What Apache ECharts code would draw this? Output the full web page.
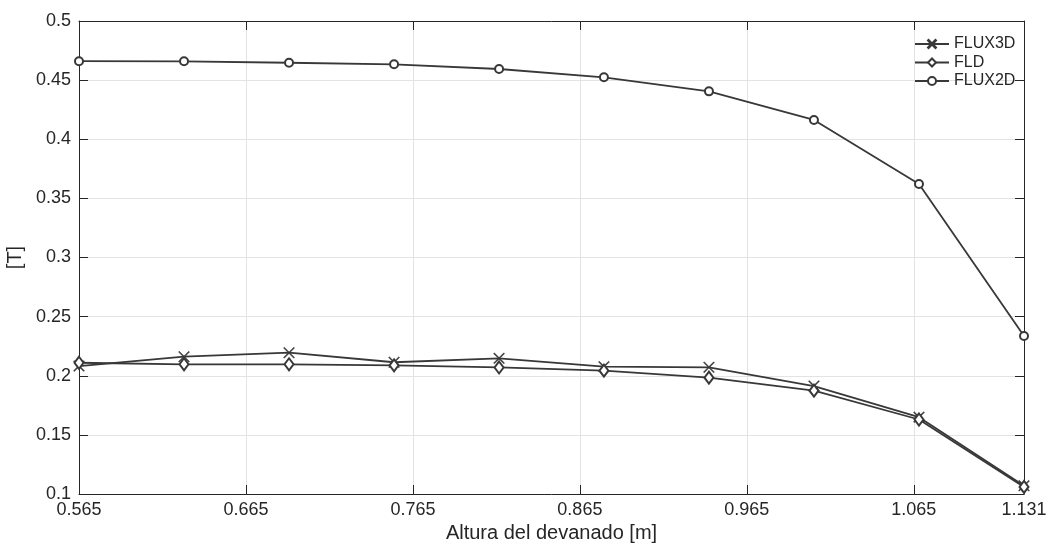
<!DOCTYPE html>
<html>
<head>
<meta charset="utf-8">
<script src="https://cdn.jsdelivr.net/npm/echarts@6/dist/echarts.min.js"></script>
<style>
    html, body { margin: 0; padding: 0; background: #fff; }
    #chart { width: 1057px; height: 546px; }
</style>
</head>
<body>
<div id="chart"></div>
<script>
// altura del devanado [m]
let alturas = [0.565, 0.6279, 0.6908, 0.7537, 0.8166, 0.8794, 0.9423, 1.0052, 1.0681, 1.131];
let flux3d = [0.2082, 0.2161, 0.2195, 0.2114, 0.2147, 0.2077, 0.2071, 0.1913, 0.1650, 0.1070];
let fld = [0.2110, 0.2097, 0.2097, 0.2088, 0.2070, 0.2043, 0.1984, 0.1874, 0.1630, 0.1060];
let flux2d = [0.4660, 0.4659, 0.4647, 0.4634, 0.4594, 0.4524, 0.4405, 0.4163, 0.3622, 0.2336];
let xTicks = [0.565, 0.665, 0.765, 0.865, 0.965, 1.065, 1.131];

let FONT = "'Liberation Sans', Arial, Helvetica, sans-serif";
let INK = "#262626";
let LINE = "#383838";
//marca en X, trazo fino
let crossPath = "path://M0,0.7L0.7,0L5,4.3L9.3,0L10,0.7L5.7,5L10,9.3L9.3,10L5,5.7L0.7,10L0,9.3L4.3,5Z";

function pares(ys) {
    let d = [];
    alturas.forEach(function (x, i) {
        d.push([x, ys[i]]);
    });
    return d;
}

function serie(name, ys, symbol, size, bw) {
    return {
        name: name,
        type: 'line',
        data: pares(ys),
        symbol: symbol,
        symbolSize: size,
        showAllSymbol: true,
        lineStyle: { color: LINE, width: 1.8 },
        itemStyle: { color: LINE, borderColor: LINE, borderWidth: bw },
        emphasis: { disabled: true }
    };
}

let myChart = echarts.init(document.getElementById('chart'));
let option = {
    animation: false,
    backgroundColor: '#fff',
    grid: { left: 79, right: 33, top: 21, bottom: 52, outerBoundsMode: 'none' },
    legend: {
        orient: 'vertical',
        left: 909,
        top: 31,
        itemWidth: 34,
        itemHeight: 10,
        itemGap: 2.5,
        textStyle: { fontFamily: FONT, fontSize: 16, color: INK },
        data: ['FLUX3D', 'FLD', 'FLUX2D']
    },
    xAxis: [
        {
            type: 'value',
            position: 'bottom',
            min: 0.565,
            max: 1.131,
            name: 'Altura del devanado [m]',
            nameLocation: 'middle',
            nameGap: 23,
            nameTextStyle: { fontFamily: FONT, fontSize: 20, color: INK },
            axisLine: { show: true, lineStyle: { color: INK, width: 1 } },
            axisTick: { show: true, inside: true, length: 9, customValues: xTicks, lineStyle: { color: INK } },
            axisLabel: {
                customValues: xTicks,
                fontFamily: FONT, fontSize: 18, color: INK, margin: 7,
                formatter: function (v) { return v.toFixed(3); }
            },
            splitLine: { show: true, lineStyle: { color: '#e3e3e3', width: 1 } }
        },
        {
            type: 'value',
            position: 'top',
            min: 0.565,
            max: 1.131,
            axisLine: { show: true, lineStyle: { color: INK, width: 1 } },
            axisTick: { show: true, inside: true, length: 9, customValues: xTicks, lineStyle: { color: INK } },
            axisLabel: { show: false },
            splitLine: { show: false }
        }
    ],
    yAxis: [
        {
            type: 'value',
            position: 'left',
            min: 0.1,
            max: 0.5,
            interval: 0.05,
            name: '[T]',
            nameLocation: 'middle',
            nameGap: 46,
            nameTextStyle: { fontFamily: FONT, fontSize: 20, color: INK },
            axisLine: { show: true, lineStyle: { color: INK, width: 1 } },
            axisTick: { show: true, inside: true, length: 9, lineStyle: { color: INK } },
            axisLabel: {
                fontFamily: FONT, fontSize: 18, color: INK, margin: 8,
                formatter: function (v) { return String(+v.toFixed(2)); }
            },
            splitLine: { show: true, lineStyle: { color: '#e3e3e3', width: 1 } }
        },
        {
            type: 'value',
            position: 'right',
            min: 0.1,
            max: 0.5,
            interval: 0.05,
            axisLine: { show: true, lineStyle: { color: INK, width: 1 } },
            axisTick: { show: true, inside: true, length: 9, lineStyle: { color: INK } },
            axisLabel: { show: false },
            splitLine: { show: false }
        }
    ],
    series: [
        serie('FLUX3D', flux3d, crossPath, 11, 0.5),
        serie('FLD', fld, 'emptyDiamond', [9, 12], 1.6),
        serie('FLUX2D', flux2d, 'emptyCircle', 8, 1.8)
    ]
};
myChart.setOption(option);
</script>
</body>
</html>
